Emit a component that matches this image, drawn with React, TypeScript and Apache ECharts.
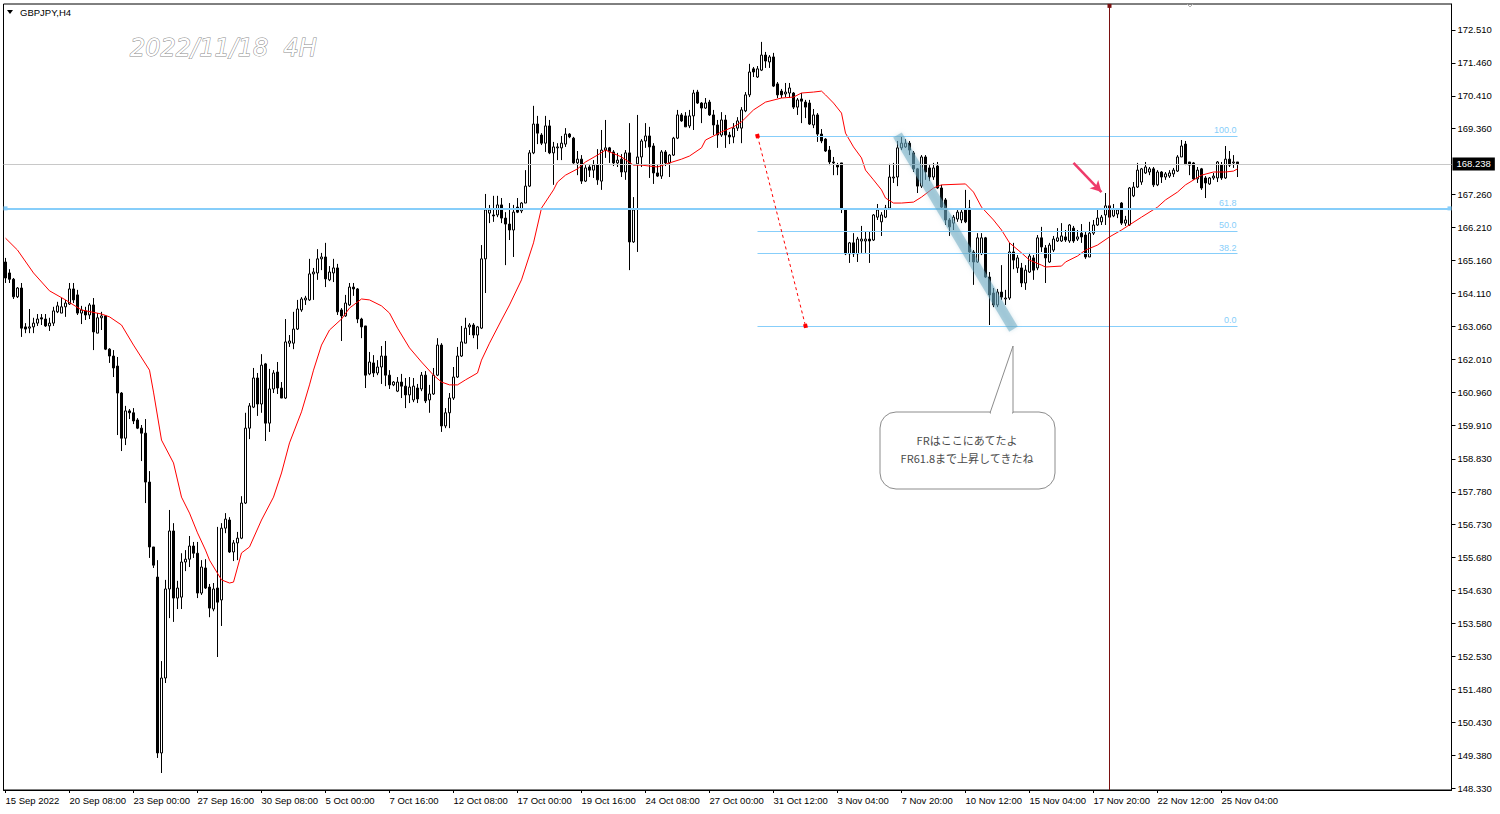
import React, { useEffect, useRef } from "react";
import * as echarts from "echarts";

const xTickLabels = [
  "15 Sep 2022", "20 Sep 08:00", "23 Sep 00:00", "27 Sep 16:00", "30 Sep 08:00",
  "5 Oct 00:00", "7 Oct 16:00", "12 Oct 08:00", "17 Oct 00:00", "19 Oct 16:00",
  "24 Oct 08:00", "27 Oct 00:00", "31 Oct 12:00", "3 Nov 04:00", "7 Nov 20:00",
  "10 Nov 12:00", "15 Nov 04:00", "17 Nov 20:00", "22 Nov 12:00", "25 Nov 04:00",
];
const labelEvery = 16;

const yTickValues = [
  172.51, 171.46, 170.41, 169.36, 167.26, 166.21, 165.16, 164.11, 163.06, 162.01,
  160.96, 159.91, 158.83, 157.78, 156.73, 155.68, 154.63, 153.58, 152.53, 151.48,
  150.43, 149.38, 148.33,
];

// [open, close, low, high]
const candles: number[][] = [
  [165.11,164.60,164.44,165.24],[164.76,164.56,164.44,164.88],[164.56,164.00,163.93,164.60],[164.00,164.28,163.96,164.31],
  [164.28,163.00,162.72,164.44],[163.04,162.97,162.84,163.16],[163.00,163.04,162.84,163.61],[163.04,163.16,162.84,163.33],
  [163.16,163.29,163.07,163.45],[163.33,163.29,163.10,163.45],[163.29,163.07,163.04,163.45],[163.07,163.16,162.91,163.33],
  [163.16,163.55,163.07,163.68],[163.52,163.71,163.48,163.84],[163.48,163.68,163.48,163.96],[163.68,163.80,163.36,163.90],
  [163.77,164.25,163.74,164.44],[164.25,163.90,163.80,164.44],[164.06,163.48,163.42,164.22],[163.48,163.58,163.13,163.71],
  [163.55,163.42,163.26,163.68],[163.42,163.74,163.29,163.80],[163.74,162.88,162.30,163.96],[162.84,163.33,162.84,163.48],
  [163.33,163.39,162.94,163.52],[163.39,162.33,162.30,163.42],[162.33,162.11,161.89,162.36],[162.11,161.73,161.44,162.30],
  [161.79,160.93,159.59,162.08],[160.93,159.49,159.08,160.96],[159.49,160.36,159.27,160.52],[160.36,160.30,160.10,160.42],
  [160.30,160.04,159.94,160.45],[160.07,159.81,159.78,160.13],[159.81,159.65,158.76,159.91],[159.65,158.09,157.42,160.10],
  [158.09,156.02,155.67,158.44],[156.02,155.44,155.35,156.02],[155.06,149.45,149.29,155.60],[149.45,151.84,148.81,152.38],
  [151.84,154.68,151.68,154.97],[154.68,156.53,153.75,157.20],[156.53,154.39,153.63,156.78],[154.39,154.71,154.04,154.94],
  [154.42,155.54,154.04,155.82],[155.54,155.63,155.25,155.92],[155.63,156.05,155.38,156.37],[156.05,155.82,155.67,156.18],
  [155.82,154.55,154.39,156.18],[154.55,155.38,154.49,155.60],[155.35,154.71,154.68,155.63],[154.74,154.07,153.78,154.84],
  [154.04,154.68,153.97,154.87],[154.71,154.26,152.51,156.66],[154.33,156.62,153.50,156.78],[156.62,156.91,156.46,157.10],
  [156.88,155.86,155.83,156.97],[155.86,156.15,155.57,156.24],[156.15,156.30,155.60,156.50],[156.30,157.42,156.27,157.64],
  [157.42,159.81,157.39,160.30],[159.81,160.52,159.46,160.61],[160.48,161.41,160.45,161.73],[161.41,160.58,160.20,161.57],
  [160.58,161.82,160.30,162.17],[161.86,159.97,159.40,161.89],[159.97,161.06,159.69,161.70],[161.06,161.57,160.93,161.66],
  [161.60,161.09,160.90,161.92],[161.09,160.77,160.77,161.28],[160.77,162.56,160.74,163.29],[162.52,162.59,162.40,162.78],
  [162.52,162.97,162.33,163.52],[162.97,163.61,162.94,163.90],[163.58,163.93,163.52,163.99],[163.90,163.96,163.74,164.03],
  [163.90,164.73,163.87,165.21],[164.73,164.79,163.90,164.92],[164.76,165.21,164.54,165.52],[165.21,165.27,164.85,165.40],
  [165.27,164.57,164.31,165.72],[164.54,164.79,164.50,164.98],[164.76,164.92,164.47,165.21],[164.92,163.52,163.42,165.05],
  [163.58,163.39,162.59,163.64],[163.39,163.80,163.36,164.06],[163.74,164.31,163.71,164.44],[164.31,164.25,164.03,164.44],
  [164.25,163.29,163.16,164.28],[163.29,163.04,162.68,163.33],[163.07,161.50,161.09,163.07],[161.54,161.92,161.50,162.24],
  [161.89,161.57,161.44,162.14],[161.57,161.76,161.50,161.98],[161.76,162.11,161.22,162.43],[162.11,161.50,161.15,162.59],
  [161.50,161.19,161.06,161.66],[161.19,161.28,161.15,161.31],[160.99,161.28,160.96,161.44],[161.28,161.15,160.77,161.54],
  [161.15,160.87,160.45,161.41],[160.87,161.12,160.61,161.44],[160.71,161.15,160.64,161.41],[161.09,160.74,160.61,161.22],
  [161.06,161.50,160.99,161.60],[161.50,160.68,160.61,161.63],[160.71,160.90,160.30,161.19],[160.90,161.50,160.87,161.73],
  [161.50,162.46,161.47,162.68],[162.46,159.88,159.69,162.52],[159.88,160.30,159.81,160.45],[160.30,160.77,159.81,160.93],
  [160.77,161.44,160.71,161.76],[161.44,162.11,161.41,162.40],[162.11,162.56,162.08,163.07],[162.52,163.00,162.52,163.33],
  [163.04,163.10,162.78,163.16],[163.10,162.78,162.68,163.16],[162.78,163.04,162.33,163.07],[163.00,165.21,162.97,165.65],
  [165.21,166.77,164.12,167.28],[166.67,166.77,166.35,166.93],[166.61,166.58,166.39,167.22],[166.61,166.93,166.54,167.22],
  [166.93,166.51,166.35,167.15],[166.51,166.32,165.01,166.70],[166.32,166.13,165.81,166.99],[166.13,166.70,165.27,166.93],
  [166.86,166.70,166.67,167.15],[166.74,166.99,166.67,167.02],[166.99,167.53,166.99,168.04],[167.53,168.59,167.50,168.68],
  [168.59,169.51,168.55,170.09],[169.51,169.22,168.87,169.77],[169.16,168.90,168.84,169.22],[168.90,169.45,168.62,169.77],
  [169.45,168.59,168.55,169.64],[168.59,168.78,167.57,168.94],[168.75,168.78,168.36,168.90],[168.75,168.90,168.36,169.13],
  [168.87,169.19,168.78,169.38],[169.19,169.10,169.06,169.22],[169.06,168.27,168.24,169.10],[168.27,168.39,167.88,168.65],
  [168.39,167.69,167.60,168.52],[167.69,168.11,167.66,168.20],[168.14,168.04,167.82,168.20],[168.04,168.20,167.79,168.36],
  [168.20,167.73,167.57,168.71],[167.69,168.68,167.41,169.32],[168.68,168.75,168.43,169.64],[168.75,168.62,168.27,168.78],
  [168.62,168.27,168.17,168.68],[168.27,168.36,168.14,168.59],[168.39,167.98,167.82,168.55],[167.98,168.59,167.73,168.68],
  [168.59,165.75,164.85,169.54],[165.75,166.77,165.72,167.18],[168.24,168.46,165.43,169.80],[168.46,168.97,168.14,169.03],
  [168.97,169.13,168.75,169.54],[169.13,168.78,167.79,169.42],[168.81,167.95,167.60,168.90],[167.95,167.85,167.82,168.20],
  [167.85,168.62,167.76,168.68],[168.62,168.27,168.17,168.68],[168.27,168.52,167.82,168.55],[168.52,169.06,168.49,169.10],
  [169.06,169.80,169.03,169.96],[169.80,169.61,169.58,169.86],[169.77,169.42,169.42,169.89],[169.45,169.77,169.38,169.96],
  [169.77,170.50,169.32,170.60],[170.53,170.18,170.15,170.60],[170.18,170.02,169.54,170.21],[170.02,170.18,169.99,170.34],
  [170.21,169.80,169.77,170.28],[169.80,169.48,169.16,169.96],[169.48,169.16,168.75,169.64],[169.16,169.64,169.10,169.89],
  [169.64,169.16,168.75,169.80],[169.16,169.10,168.87,169.26],[169.10,169.38,168.90,169.54],[169.38,169.61,169.29,169.73],
  [169.38,169.96,168.90,170.05],[169.93,170.44,169.89,170.53],[170.44,171.17,170.37,171.43],[171.27,171.17,171.01,171.33],
  [171.01,171.27,170.98,171.36],[171.23,171.71,171.20,172.13],[171.71,171.52,171.30,171.81],[171.49,171.65,171.30,171.71],
  [171.65,170.72,170.69,171.78],[170.79,170.44,170.34,170.85],[170.56,170.44,170.34,170.63],[170.47,170.53,170.37,170.82],
  [170.50,170.66,170.34,170.82],[170.50,170.05,169.99,170.53],[170.05,170.28,169.80,170.34],[170.31,170.24,169.54,170.50],
  [170.21,170.05,169.70,170.28],[170.18,169.51,169.48,170.28],[169.48,169.80,169.38,169.99],[169.80,169.19,168.94,169.86],
  [169.19,168.97,168.90,169.35],[169.03,168.65,168.62,169.06],[168.68,168.30,168.20,168.81],[168.30,168.27,167.88,168.46],
  [168.20,168.14,167.88,168.27],[168.27,166.80,166.67,168.27],[166.80,165.37,165.33,166.83],[165.37,165.72,165.08,165.75],
  [165.72,165.37,165.27,166.03],[165.37,165.84,165.11,165.91],[165.78,165.84,165.40,166.26],[165.78,165.84,165.40,166.07],
  [165.84,165.78,165.08,166.07],[165.81,166.61,165.78,166.64],[166.54,166.77,166.45,166.96],[166.39,166.61,165.94,166.70],
  [166.54,166.83,166.51,166.93],[166.83,167.82,166.80,168.24],[167.79,167.82,167.63,168.27],[167.82,168.75,167.53,168.97],
  [168.75,168.90,168.68,169.10],[168.78,168.90,168.75,169.03],[168.90,168.68,168.52,168.97],[168.59,168.08,167.98,168.65],
  [168.08,167.53,167.31,168.11],[167.53,168.46,167.47,168.52],[168.46,167.98,167.73,168.52],[168.11,167.82,167.69,168.20],
  [167.82,168.11,167.73,168.27],[168.17,167.47,167.44,168.30],[167.47,166.86,166.83,167.57],[167.09,166.45,166.29,167.15],
  [166.45,166.23,165.94,166.51],[166.35,166.54,166.13,166.61],[166.48,166.70,166.39,166.77],[166.45,166.70,166.35,166.77],
  [166.80,166.39,166.35,167.41],[166.83,165.43,165.11,167.09],[165.43,165.11,164.38,165.49],[165.11,165.88,165.08,166.03],
  [165.37,165.88,165.33,166.03],[165.88,164.63,164.60,165.91],[164.63,164.06,163.10,164.79],[164.12,163.74,163.67,164.28],
  [163.74,164.15,163.67,164.25],[164.15,163.99,163.90,165.01],[163.93,163.96,163.74,164.22],[163.96,165.43,163.90,165.72],
  [165.43,165.17,164.88,165.72],[164.92,165.24,164.76,165.33],[164.92,164.44,164.31,165.08],[164.44,164.85,164.22,165.01],
  [164.79,165.30,164.76,165.40],[165.24,164.85,164.54,165.33],[164.92,165.88,164.85,165.97],[165.88,165.59,165.43,166.23],
  [165.56,165.24,164.44,165.65],[165.11,165.65,165.08,165.72],[165.49,165.84,165.43,165.94],[165.78,165.88,165.75,166.19],
  [165.78,165.94,165.75,166.35],[165.91,165.81,165.75,166.13],[165.78,166.29,165.72,166.32],[166.19,165.78,165.72,166.26],
  [165.84,165.91,165.78,166.13],[166.03,165.91,165.72,166.32],[165.97,165.27,165.21,166.07],[165.27,166.03,165.27,166.39],
  [166.03,166.29,165.97,166.45],[166.29,166.51,166.26,166.83],[166.39,166.54,166.29,166.61],[166.61,166.90,166.29,167.31],
  [166.90,166.54,166.23,166.99],[166.58,166.80,166.54,166.96],[166.64,166.77,166.51,166.83],[166.99,166.35,166.29,167.02],
  [166.35,166.45,166.26,166.58],[166.29,167.47,166.26,167.50],[167.22,167.50,167.18,167.66],[167.50,168.04,167.47,168.27],
  [167.66,168.08,167.57,168.11],[167.95,168.14,167.92,168.30],[167.98,168.08,167.88,168.14],[168.08,167.57,167.50,168.14],
  [167.57,167.98,167.53,168.04],[167.98,167.82,167.63,168.01],[167.82,167.92,167.73,167.98],[167.85,167.95,167.79,168.04],
  [167.92,168.04,167.82,168.11],[168.01,168.46,167.98,168.52],[168.46,168.81,168.46,169.00],[168.87,168.24,168.20,168.97],
  [168.30,168.20,167.88,168.30],[168.27,167.76,167.73,168.30],[167.76,168.04,167.63,168.14],[168.08,167.47,167.41,168.11],
  [167.79,167.63,167.15,167.85],[167.60,167.79,167.57,167.82],[167.79,167.85,167.73,167.95],[167.79,168.30,167.66,168.33],
  [168.20,167.79,167.73,168.30],[167.79,168.39,167.76,168.81],[168.39,168.20,168.14,168.65],[168.27,168.30,168.11,168.52],
  [168.30,168.24,167.82,168.30],
];

// moving average: [bar index, price]
const maPoints: number[][] = [
  [0,165.87],[3,165.49],[7,164.76],[11,164.19],[15,163.90],[19,163.58],[24,163.45],[26,163.36],[29,163.10],
  [32,162.46],[36,161.66],[37,160.96],[39,159.43],[42,158.70],[44,157.61],[46,157.10],[48,156.47],[50,155.92],
  [51,155.60],[54,154.97],[56,154.87],[57,154.90],[59,155.83],[61,156.02],[64,156.88],[67,157.61],[69,158.38],
  [71,159.34],[74,160.33],[76,161.19],[77,161.66],[79,162.46],[81,162.94],[84,163.29],[86,163.64],[89,163.93],
  [91,163.90],[94,163.71],[96,163.48],[98,163.00],[101,162.37],[104,161.92],[107,161.50],[109,161.28],[111,161.19],
  [113,161.19],[115,161.35],[118,161.57],[119,161.98],[121,162.52],[124,163.26],[126,163.74],[129,164.54],
  [132,165.72],[134,166.83],[137,167.41],[138,167.66],[140,167.88],[143,168.08],[145,168.30],[148,168.52],
  [150,168.68],[154,168.46],[157,168.20],[159,168.20],[163,168.14],[166,168.27],[169,168.39],[171,168.49],
  [174,168.75],[175,169.00],[179,169.26],[182,169.42],[184,169.58],[187,169.96],[190,170.21],[194,170.34],
  [197,170.37],[199,170.50],[202,170.53],[204,170.56],[205,170.44],[207,170.18],[209,169.86],[210,169.22],
  [212,168.78],[214,168.43],[215,168.04],[217,167.73],[219,167.41],[220,167.15],[222,166.99],[224,166.99],
  [227,167.02],[229,167.18],[232,167.47],[234,167.57],[240,167.60],[242,167.34],[244,166.86],[247,166.45],
  [249,166.13],[251,165.72],[254,165.40],[256,165.17],[259,165.01],[260,164.95],[264,164.98],[265,165.11],
  [268,165.30],[270,165.49],[273,165.65],[276,165.91],[279,166.13],[284,166.54],[288,166.86],[290,167.09],
  [293,167.34],[295,167.57],[299,167.88],[302,167.98],[305,167.98],[307,168.01],[308,168.08],
];

const bidPrice = 168.238;
const hLinePrice = 166.82;
const fibHigh = 169.13;
const fibLow = 163.07;
const fibLevels = [0, 38.2, 50, 61.8, 100];
const fibStartBar = 188;
const fibEndBar = 308;
const fibBaseEndBar = 200;
const bandStart = [223, 169.16];
const bandEnd = [252, 162.97];
const arrowStart = [267, 168.27];
const arrowEnd = [274, 167.34];
const vLineBar = 276;
const slotCount = 362;
const yMin = 148.268;
const yMax = 173.339;

const symbolText = "GBPJPY,H4";
const titleText = "2022/11/18  4H";
const calloutLines = ["FRはここにあてたよ", "FR61.8まで上昇してきたね"];

const FONT = "'Liberation Sans', Arial, sans-serif";
const FIB_COLOR = "#87cefa";

export default function App() {
  const ref = useRef<HTMLDivElement>(null);
  useEffect(() => {
    if (!ref.current) return;
    const chart = echarts.init(ref.current, null, { renderer: "svg" });
    const categories = Array.from({ length: slotCount }, (_, i) => String(i));
    const showTick = (i: number) => i % labelEvery === 0 && i / labelEvery < xTickLabels.length;

    const fibItems = fibLevels.map((lv) => {
      const price = fibLow + ((fibHigh - fibLow) * lv) / 100;
      return [
        {
          coord: [fibStartBar, price],
          symbol: "none",
          lineStyle: { color: FIB_COLOR, width: 1, type: "solid" },
          label: {
            show: true,
            position: "insideEndTop",
            formatter: lv.toFixed(1),
            color: FIB_COLOR,
            fontSize: 9,
            fontFamily: FONT,
            distance: 1,
          },
        },
        { coord: [fibEndBar, price], symbol: "none" },
      ];
    });

    const option: any = {
      animation: false,
      backgroundColor: "#ffffff",
      grid: {
        left: 3.5,
        top: 4,
        width: 1448,
        height: 786,
        show: true,
        borderColor: "#000",
        borderWidth: 1,
        backgroundColor: "#fff",
        containLabel: false,
        outerBoundsMode: "none",
      },
      xAxis: {
        type: "category",
        data: categories,
        boundaryGap: true,
        axisLine: { show: true, lineStyle: { color: "#000", width: 1 } },
        axisTick: {
          show: true,
          alignWithLabel: true,
          interval: (i: number) => showTick(i),
          length: 3,
          lineStyle: { color: "#000" },
        },
        axisLabel: {
          interval: (i: number) => showTick(i),
          formatter: (_v: string, i: number) => xTickLabels[i / labelEvery] ?? "",
          align: "left",
          color: "#000",
          fontSize: 9.5,
          fontFamily: FONT,
          margin: 5,
        },
        splitLine: { show: false },
      },
      yAxis: {
        type: "value",
        position: "right",
        min: yMin,
        max: yMax,
        scale: true,
        splitLine: { show: false },
        axisLine: { show: true, lineStyle: { color: "#000", width: 1 } },
        axisTick: {
          show: true,
          length: 4,
          customValues: yTickValues,
          lineStyle: { color: "#000" },
        },
        axisLabel: {
          customValues: yTickValues,
          formatter: (v: number) => v.toFixed(3),
          color: "#000",
          fontSize: 9.5,
          fontFamily: FONT,
          margin: 6,
        },
      },
      series: [
        {
          type: "candlestick",
          data: candles,
          barWidth: 2,
          itemStyle: {
            color: "#ffffff",
            color0: "#000000",
            borderColor: "#000000",
            borderColor0: "#000000",
            borderColorDoji: "#000000",
            borderWidth: 1,
          },
          markLine: {
            silent: true,
            animation: false,
            symbol: ["none", "none"],
            precision: 3,
            label: { show: false },
            data: [
              {
                yAxis: bidPrice,
                symbol: "none",
                lineStyle: { color: "#c8c8c8", width: 1, type: "solid" },
                label: {
                  show: true,
                  position: "end",
                  formatter: bidPrice.toFixed(3),
                  backgroundColor: "#000",
                  color: "#fff",
                  fontSize: 9.5,
                  fontFamily: FONT,
                  padding: [2, 4, 1, 4],
                  distance: 1,
                },
              },
              ...fibItems,
              [
                {
                  coord: [0, hLinePrice],
                  symbol: "rect",
                  symbolSize: 4,
                  lineStyle: { color: FIB_COLOR, width: 2, type: "solid" },
                },
                { coord: [slotCount - 1, hLinePrice], symbol: "rect", symbolSize: 4 },
              ],
              [
                {
                  coord: [fibStartBar, fibHigh],
                  symbol: "rect",
                  symbolSize: 4,
                  lineStyle: { color: "#ff0000", width: 1, type: [3, 3] },
                },
                { coord: [fibBaseEndBar, fibLow], symbol: "rect", symbolSize: 4 },
              ],
              [
                {
                  coord: [vLineBar, yMin],
                  symbol: "none",
                  lineStyle: { color: "#7a1010", width: 1, type: "solid" },
                },
                { coord: [vLineBar, yMax - 0.06], symbol: "rect", symbolSize: 4 },
              ],
              [
                {
                  coord: bandStart,
                  symbol: "none",
                  lineStyle: {
                    color: "rgba(105,168,192,0.5)",
                    width: 10,
                    type: "solid",
                    cap: "butt",
                    shadowBlur: 4,
                    shadowColor: "rgba(105,168,192,0.55)",
                  },
                },
                { coord: bandEnd, symbol: "none" },
              ],
              [
                {
                  coord: arrowStart,
                  symbol: "none",
                  lineStyle: { color: "#ee3b6a", width: 2.5, type: "solid" },
                },
                { coord: arrowEnd, symbol: "arrow", symbolSize: [9, 11] },
              ],
            ],
          },
        },
        {
          type: "line",
          data: maPoints,
          showSymbol: false,
          symbol: "none",
          lineStyle: { color: "#ff0000", width: 1 },
          z: 3,
        },
      ],
      graphic: [
        {
          type: "polygon",
          shape: { points: [[7, 10], [13, 10], [10, 14]] },
          style: { fill: "#000" },
        },
        {
          type: "text",
          x: 20,
          y: 12,
          style: {
            text: symbolText,
            fill: "#000",
            fontSize: 9.5,
            fontFamily: FONT,
            verticalAlign: "middle",
          },
        },
        {
          type: "text",
          x: 130,
          y: 48,
          style: {
            text: titleText,
            fill: "#ffffff",
            stroke: "#8a8a8a",
            lineWidth: 1,
            fontSize: 24,
            fontStyle: "italic",
            fontFamily: "'DejaVu Sans', sans-serif",
            verticalAlign: "middle",
          },
        },
        {
          type: "polyline",
          shape: { points: [[1187, 4], [1190, 7], [1193, 4]] },
          style: { stroke: "#b0b0b0", lineWidth: 1, fill: "none" },
        },
        {
          type: "rect",
          shape: { x: 880, y: 412, width: 175, height: 77, r: 16 },
          style: { fill: "#fff", stroke: "#8c8c8c", lineWidth: 1 },
          z: 100,
        },
        {
          type: "polygon",
          shape: { points: [[990, 413], [1013, 346], [1013, 413]] },
          style: { fill: "#fff", stroke: "#8c8c8c", lineWidth: 1 },
          z: 101,
        },
        {
          type: "line",
          shape: { x1: 991, y1: 413, x2: 1012, y2: 413 },
          style: { stroke: "#fff", lineWidth: 3 },
          z: 102,
        },
        {
          type: "text",
          x: 967,
          y: 440,
          style: {
            text: calloutLines[0],
            fill: "#4a4a4a",
            fontSize: 11,
            fontFamily: "'Noto Sans CJK JP', sans-serif",
            align: "center",
            verticalAlign: "middle",
          },
          z: 103,
        },
        {
          type: "text",
          x: 967,
          y: 458,
          style: {
            text: calloutLines[1],
            fill: "#4a4a4a",
            fontSize: 11,
            fontFamily: "'Noto Sans CJK JP', sans-serif",
            align: "center",
            verticalAlign: "middle",
          },
          z: 103,
        },
      ],
    };
    chart.setOption(option);
    return () => chart.dispose();
  }, []);

  return (
    <div
      ref={ref}
      style={{ position: "fixed", left: 0, top: 0, width: 1500, height: 814, background: "#fff" }}
    />
  );
}
